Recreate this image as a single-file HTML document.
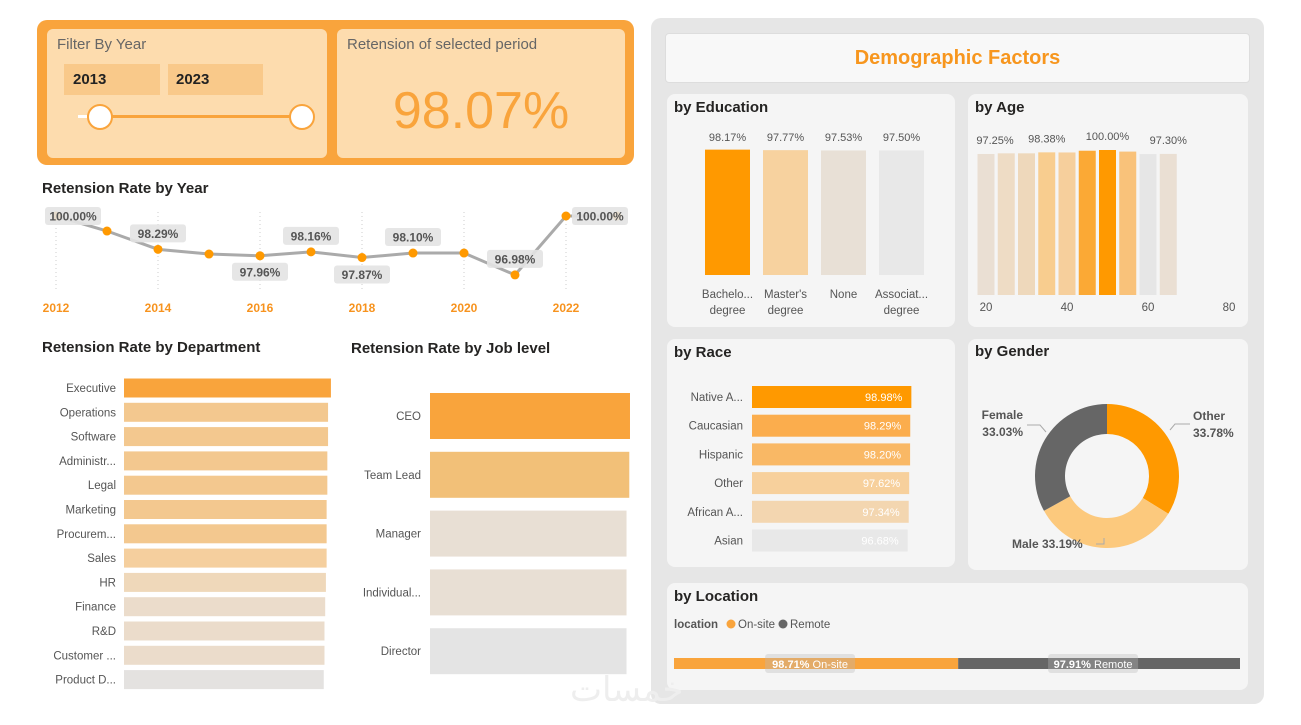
<!DOCTYPE html>
<html><head><meta charset="utf-8">
<style>
body{margin:0;width:1301px;height:725px;background:#fff;font-family:"Liberation Sans","DejaVu Sans",sans-serif;position:relative;overflow:hidden}
.a{position:absolute}
.t{font-size:15px;font-weight:bold;color:#252423}
.card{position:absolute;background:#f5f5f5;border-radius:8px}
svg text{font-family:"Liberation Sans",sans-serif}
</style></head><body>
<div class="a" style="left:37px;top:20px;width:597px;height:145px;background:#f9a43c;border-radius:10px"></div>
<div class="a" style="left:47px;top:29px;width:280px;height:129px;background:#fddcae;border-radius:6px">
 <div class="a" style="left:10px;top:7px;font-size:15px;color:#666">Filter By Year</div>
 <div class="a" style="left:17px;top:35px;width:96px;height:31px;background:#f9c98a;font-weight:bold;font-size:15px;line-height:31px;text-indent:9px;color:#222">2013</div>
 <div class="a" style="left:121px;top:35px;width:95px;height:31px;background:#f9c98a;font-weight:bold;font-size:15px;line-height:31px;text-indent:8px;color:#222">2023</div>
 <div class="a" style="left:31px;top:86px;width:10px;height:3px;background:#fff"></div>
 <div class="a" style="left:40px;top:86px;width:214px;height:3px;background:#f9a43c"></div>
 <div class="a" style="left:40px;top:75px;width:22px;height:22px;border:2px solid #f9a43c;background:#fff;border-radius:50%"></div>
 <div class="a" style="left:242px;top:75px;width:22px;height:22px;border:2px solid #f9a43c;background:#fff;border-radius:50%"></div>
</div>
<div class="a" style="left:337px;top:29px;width:288px;height:129px;background:#fddcae;border-radius:6px">
 <div class="a" style="left:10px;top:7px;font-size:15px;color:#666">Retension of selected period</div>
 <div class="a" style="left:0;width:288px;top:52px;text-align:center;font-size:52px;color:#f9a43c">98.07%</div>
</div>
<div class="a t" style="left:42px;top:180px">Retension Rate by Year</div>
<div class="a t" style="left:42px;top:339px">Retension Rate by Department</div>
<div class="a t" style="left:351px;top:340px">Retension Rate by Job level</div>
<svg class="a" id="left" style="left:0;top:0" width="650" height="725"></svg>

<div class="a" style="left:651px;top:18px;width:613px;height:686px;background:#e6e6e6;border-radius:10px"></div>
<div class="a" style="left:665px;top:33px;width:583px;height:48px;background:#f8f8f8;border:1px solid #ddd;border-radius:4px;text-align:center;line-height:48px;font-size:20px;font-weight:bold;color:#f7961e">Demographic Factors</div>
<div class="card" style="left:667px;top:94px;width:288px;height:233px"></div>
<div class="card" style="left:968px;top:94px;width:280px;height:233px"></div>
<div class="card" style="left:667px;top:339px;width:288px;height:228px"></div>
<div class="card" style="left:968px;top:339px;width:280px;height:231px"></div>
<div class="card" style="left:667px;top:583px;width:581px;height:107px"></div>
<div class="a t" style="left:674px;top:99px">by Education</div>
<div class="a t" style="left:975px;top:99px">by Age</div>
<div class="a t" style="left:674px;top:344px">by Race</div>
<div class="a t" style="left:975px;top:343px">by Gender</div>
<div class="a t" style="left:674px;top:588px">by Location</div>
<svg class="a" id="right" style="left:0;top:0" width="1301" height="725"></svg>
<div class="a" style="left:570px;top:670px;font-size:34px;color:#eee;font-family:'DejaVu Sans',sans-serif">خمسات</div>

<script>
const years=[2012,2013,2014,2015,2016,2017,2018,2019,2020,2021,2022,2023];
const yearRates=[100,99.23,98.29,98.05,97.96,98.16,97.87,98.10,98.10,96.98,100,100];
const yearTicks=[2012,2014,2016,2018,2020,2022];
const deptNames=["Executive","Operations","Software","Administr...","Legal","Marketing","Procurem...","Sales","HR","Finance","R&D","Customer ...","Product D..."];
const deptRates=[98.9,98.5,98.5,98.4,98.4,98.3,98.3,98.3,98.2,98.1,98.0,98.0,97.9];
const jobNames=["CEO","Team Lead","Manager","Individual...","Director"];
const jobRates=[98.9,98.8,98.4,98.4,98.4];
const eduNames=[["Bachelo...","degree"],["Master's","degree"],["None",""],["Associat...","degree"]];
const eduRates=[98.17,97.77,97.53,97.50];
const ageBins=[20,25,30,35,40,45,50,55,60,65];
const ageRates=[97.25,97.7,97.7,98.38,98.3,99.5,100,98.9,97.2,97.30];
const ageTicks=[20,40,60,80];
const raceNames=["Native A...","Caucasian","Hispanic","Other","African A...","Asian"];
const raceRates=[98.98,98.29,98.20,97.62,97.34,96.68];
const genderNames=["Other","Male","Female"];
const genderShares=[33.78,33.19,33.03];
const locNames=["On-site","Remote"];
const locRates=[98.71,97.91];

const NS="http://www.w3.org/2000/svg";
function mk(p,tag,at,txt){const e=document.createElementNS(NS,tag);for(const k in at)e.setAttribute(k,at[k]);if(txt!==undefined)e.textContent=txt;p.appendChild(e);return e;}
const L=document.getElementById('left'),R=document.getElementById('right');

// Year line chart
const xY=y=>56+(y-2012)*51, yY=v=>216+(100-v)*19.5;
yearTicks.forEach(t=>{const g=mk(L,'line',{x1:xY(t),x2:xY(t),y1:212,y2:292,stroke:'#ccc','stroke-dasharray':'1 3'});
 const tx=mk(L,'text',{x:xY(t),y:312,'text-anchor':'middle','font-size':12,'font-weight':'bold',fill:'#f7931e'},t);});
const ln=mk(L,'polyline',{points:years.map((y,i)=>xY(y)+','+yY(yearRates[i])).join(' '),fill:'none',stroke:'#aaa','stroke-width':3});

years.forEach((y,i)=>{const c=mk(L,'circle',{cx:xY(y),cy:yY(yearRates[i]),r:4.5,fill:'#ff9900'});});
const lblIdx=[0,2,4,5,6,7,9,10],lblOff=[0,-16,16,-16,17,-16,-16,0];
lblIdx.forEach((i,k)=>{const cx=i==0?73:(i==10?600:xY(years[i])),cy=yY(yearRates[i])+lblOff[k];
 const r=mk(L,'rect',{x:cx-28,y:cy-9,width:56,height:18,rx:3,fill:'#e3e3e3',opacity:0.9});
 const t=mk(L,'text',{x:cx,y:cy+4.5,'text-anchor':'middle','font-size':12,'font-weight':'bold',fill:'#555'},yearRates[i].toFixed(2)+'%');});

// Department bars
const dCol=['#f9a43c','#f3c88f','#f3c88f','#f3c88f','#f3c88f','#f3c88f','#f3c88f','#f5cf9e','#efd8ba','#ebdccb','#ebdccb','#ebdccb','#e4e2e0'];
const dW=v=>(v-70)*7.16;
deptNames.forEach((n,i)=>{const cy=388+i*24.3;
 const r=mk(L,'rect',{x:124,y:cy-9.5,width:dW(deptRates[i]),height:19,fill:dCol[i]});
 const t=mk(L,'text',{x:116,y:cy+4,'text-anchor':'end','font-size':11.5,fill:'#555'},n);});
// Job level
const jCol=['#f9a43c','#f2c078','#e8dfd4','#e8dfd4','#e4e4e4'];
const jW=v=>(v-70)*6.92;
jobNames.forEach((n,i)=>{const cy=416+i*58.8;
 const r=mk(L,'rect',{x:430,y:cy-23,width:jW(jobRates[i]),height:46,fill:jCol[i]});
 const t=mk(L,'text',{x:421,y:cy+4,'text-anchor':'end','font-size':11.5,fill:'#555'},n);});

// Education
const eCol=['#ff9900','#f7d29f','#e8e0d6','#e8e8e8'];
const eH=v=>v*1.277;
eduNames.forEach((n,i)=>{const x=705+i*58;const h=eH(eduRates[i]);
 const r=mk(R,'rect',{x:x,y:275-h,width:45,height:h,fill:eCol[i]});
 const v=mk(R,'text',{x:x+22.5,y:141,'text-anchor':'middle','font-size':11,fill:'#555'},eduRates[i].toFixed(2)+'%');
 n.forEach((s,j)=>{const t=mk(R,'text',{x:x+22.5,y:298+j*16,'text-anchor':'middle','font-size':11.5,fill:'#555'},s);});});

// Age
const aX=a=>986+(a-20)*4.05, aH=v=>v*1.45;
const aCol=['#eadfd3','#eedcc5','#eed8bb','#f8cd8f','#f6cf9c','#fba935','#ff9900','#f9c27a','#e6e6e6','#eadfd3'];
ageBins.forEach((a,i)=>{const h=aH(ageRates[i]);
 const r=mk(R,'rect',{x:aX(a)-8.5,y:295-h,width:17,height:h,fill:aCol[i]});
 if([0,3,6,9].includes(i)){const t=mk(R,'text',{x:aX(a)+(i==0?9:0),y:295-h-10,'text-anchor':'middle','font-size':11,fill:'#555'},ageRates[i].toFixed(2)+'%');}});
ageTicks.forEach(a=>{const t=mk(R,'text',{x:aX(a),y:311,'text-anchor':'middle','font-size':11.5,fill:'#555'},a);});

// Race
const rCol=['#ff9900','#fbad4d','#f9b865','#f7d09c','#f3d6b0','#e8e8e8'];
const rW=v=>v*1.61;
raceNames.forEach((n,i)=>{const cy=397+i*28.7;
 const r=mk(R,'rect',{x:752,y:cy-11,width:rW(raceRates[i]),height:22,fill:rCol[i]});
 const v=mk(R,'text',{x:752+rW(raceRates[i])-9,y:cy+4,'text-anchor':'end','font-size':11,fill:'#fff'},raceRates[i].toFixed(2)+'%');
 const t=mk(R,'text',{x:743,y:cy+4,'text-anchor':'end','font-size':11.5,fill:'#555'},n);});

// Gender donut
const gCol=['#ff9900','#fcc97d','#666666'];
const cx=1107,cy=476,ro=72,ri=42,tot=genderShares.reduce((a,b)=>a+b,0);let ang=0;
genderShares.forEach((s,i)=>{const a0=ang,a1=ang+s/tot*2*Math.PI;ang=a1;
 const p=(r,a)=>[cx+r*Math.sin(a),cy-r*Math.cos(a)];const lg=(a1-a0)>Math.PI?1:0;
 const [x0,y0]=p(ro,a0),[x1,y1]=p(ro,a1),[x2,y2]=p(ri,a1),[x3,y3]=p(ri,a0);
 const e=mk(R,'path',{d:`M${x0},${y0}A${ro},${ro} 0 ${lg} 1 ${x1},${y1}L${x2},${y2}A${ri},${ri} 0 ${lg} 0 ${x3},${y3}Z`,fill:gCol[i]});});
const gl=[[1193,420,'start',genderNames[0]],[1193,437,'start',genderShares[0].toFixed(2)+'%'],[1012,548,'start',genderNames[1]+' '+genderShares[1].toFixed(2)+'%'],[1023,419,'end',genderNames[2]],[1023,436,'end',genderShares[2].toFixed(2)+'%']];
gl.forEach(g=>{const t=mk(R,'text',{x:g[0],y:g[1],'text-anchor':g[2],'font-size':12,'font-weight':'bold',fill:'#555'},g[3]);});
[[1190,424,1175,424,1170,430],[1096,544,1104,544,1104,538],[1027,425,1040,425,1046,432]].forEach(p=>{const l=mk(R,'polyline',{points:`${p[0]},${p[1]} ${p[2]},${p[3]} ${p[4]},${p[5]}`,fill:'none',stroke:'#aaa'});});

// Location
const lg1=mk(R,'text',{x:674,y:628,'font-size':11.5,'font-weight':'bold',fill:'#555'},'location');
const lCol=['#f9a43c','#666666'];
[[731,locNames[0]],[783,locNames[1]]].forEach((e,i)=>{const c=mk(R,'circle',{cx:e[0],cy:624,r:4.5,fill:lCol[i]});
 const t=mk(R,'text',{x:e[0]+7,y:628,'font-size':11.5,fill:'#555'},e[1]);});
const lTot=locRates[0]+locRates[1];let lx=674;
locRates.forEach((v,i)=>{const w=566*v/lTot;
 const r=mk(R,'rect',{x:lx,y:658,width:w,height:11,fill:lCol[i]});
 const mid=lx+w/2;const b=mk(R,'rect',{x:mid-51,y:654,width:90,height:19,rx:3,fill:'#bbb',opacity:0.35});
 const t=mk(R,'text',{x:mid-6,y:668,'text-anchor':'middle','font-size':11,fill:'#fff'});
 mk(t,'tspan',{'font-weight':'bold'},v.toFixed(2)+'%');mk(t,'tspan',{},' '+locNames[i]);
 lx+=w;});
</script>
</body></html>
